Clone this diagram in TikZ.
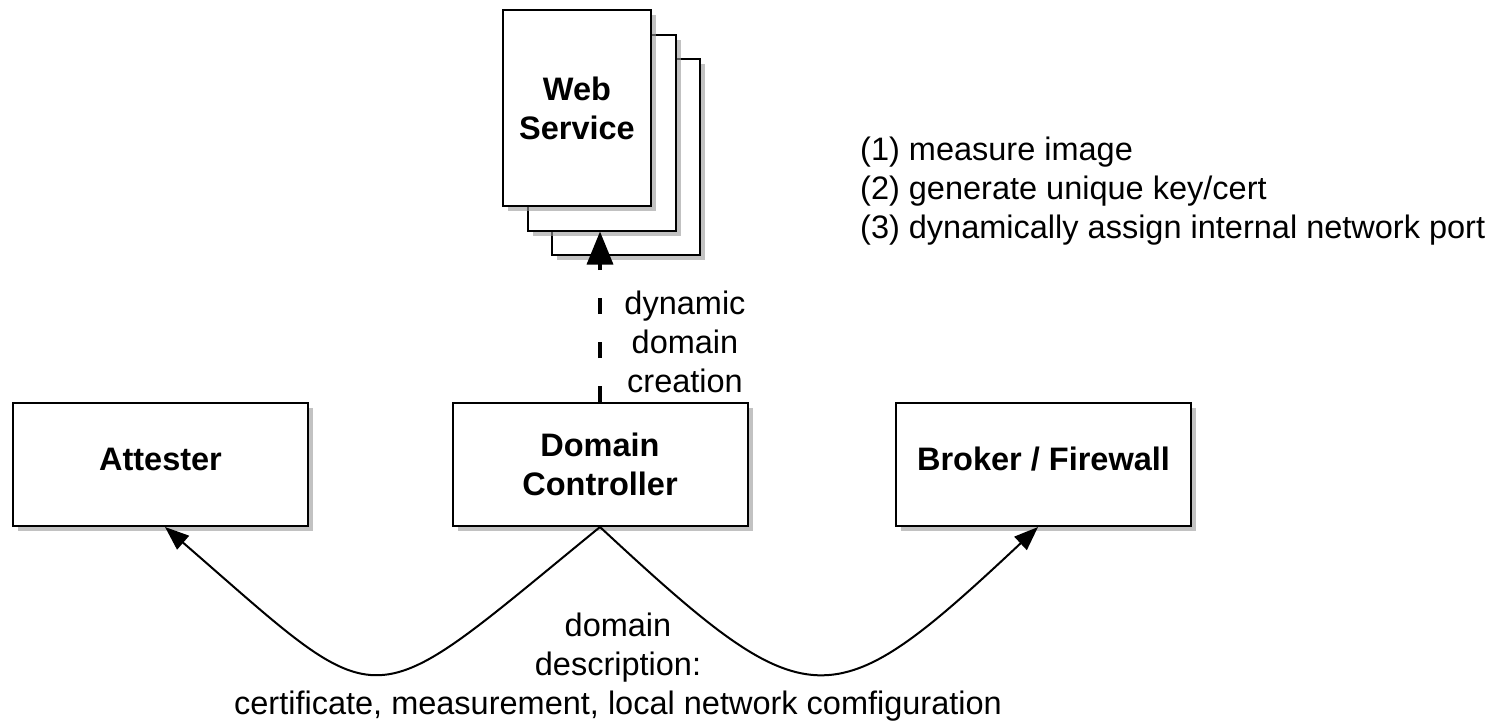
\documentclass[tikz,border=0pt]{standalone}
\usepackage{fontspec}
\setmainfont{Liberation Sans}
\usetikzlibrary{shadows,arrows.meta}
\begin{document}
\begin{tikzpicture}[x=1pt,y=-1pt,
  box/.style={draw=black, line width=2pt, fill=white, minimum width=295pt,
    minimum height=123pt, inner sep=0pt, align=center,
    font=\bfseries\fontsize{32.5}{39}\selectfont,
    drop shadow={shadow xshift=5pt, shadow yshift=-5pt, fill=black!40, opacity=0.6}},
  onebox/.style={box, text height=24pt, text depth=12pt},
  pagebox/.style={box, minimum width=148pt, minimum height=196pt},
  lbl/.style={align=center, font=\fontsize{32.5}{39}\selectfont, inner sep=0pt},
  flow/.style={line width=2pt, -{Triangle[length=24pt,width=18pt]}},
  create/.style={line width=3.5pt, dash pattern=on 16pt off 28pt,
    -{Triangle[length=33pt,width=26pt]}}
]
\useasboundingbox (0,0) rectangle (1496,720);

% stacked web service pages
\node[pagebox] (p3) at (626,157) {};
\node[pagebox] (p2) at (601.5,132.5) {};
\node[pagebox] (p1) at (577,108) {Web\\Service};

% main boxes
\node[onebox] (att) at (160.5,464.5) {Attester};
\node[box] (dc) at (600,464.5) {Domain\\Controller};
\node[onebox] (brk) at (1043.5,464.5) {Broker / Firewall};

% dynamic domain creation
\draw[create] (dc.north) -- (dc.north |- p2.south);
\node[lbl] (dyn) at (685,342) {dynamic\\domain\\creation};

% domain description curves
\coordinate (attin) at (165,527);
\coordinate (brkin) at (1038,527);
\draw[flow] (dc.south) .. controls (361,722) and (390,722) .. (attin);
\draw[flow] (dc.south) .. controls (810,722) and (830,722) .. (brkin);
\node[lbl] (desc) at (618,667) {domain\\description:\\certificate, measurement, local network comfiguration};

% notes
\node[lbl, align=left, anchor=west] (notes) at (860,191) {(1) measure image\\(2) generate unique key/cert\\(3) dynamically assign internal network port};
\end{tikzpicture}
\end{document}
